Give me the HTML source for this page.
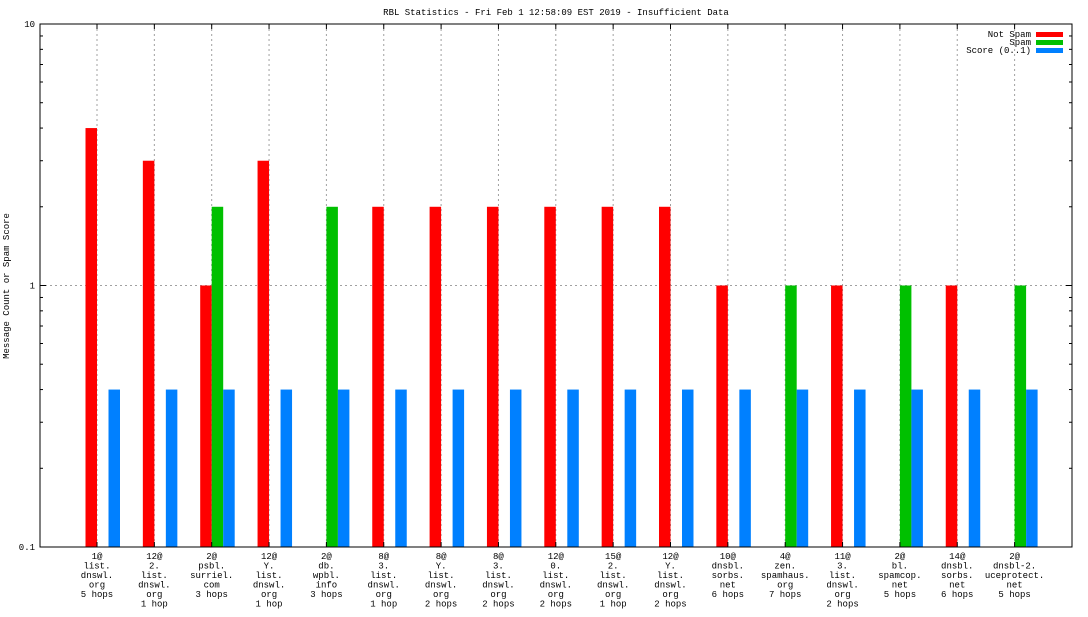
<!DOCTYPE html>
<html><head><meta charset="utf-8"><style>
html,body{margin:0;padding:0;background:#fff}
svg text{font-family:"Liberation Mono","DejaVu Sans Mono",monospace;font-size:9px;fill:#000}
</style></head><body>
<svg id="chart" width="1088" height="612" viewBox="0 0 1088 612" xmlns="http://www.w3.org/2000/svg">
<text x="556" y="15" text-anchor="middle">RBL Statistics - Fri Feb  1 12:58:09 EST 2019 - Insufficient Data</text>
<text transform="translate(9,286) rotate(-90)" text-anchor="middle">Message Count or Spam Score</text>
<g id="grid"></g><g id="bars"></g><g id="axes"></g><g id="labels"></g>
<g>
<text x="1031" y="37" text-anchor="end">Not Spam</text>
<rect x="1036" y="32" width="27" height="5" fill="#ff0000"/>
<text x="1031" y="45" text-anchor="end">Spam</text>
<rect x="1036" y="40" width="27" height="5" fill="#00c000"/>
<text x="1031" y="53" text-anchor="end">Score (0..1)</text>
<rect x="1036" y="48" width="27" height="5" fill="#0080ff"/>
</g>
</svg>
<script>
const categories=[
["1@","list.","dnswl.","org","5 hops"],["12@","2.","list.","dnswl.","org","1 hop"],["2@","psbl.","surriel.","com","3 hops"],
["12@","Y.","list.","dnswl.","org","1 hop"],["2@","db.","wpbl.","info","3 hops"],["8@","3.","list.","dnswl.","org","1 hop"],
["8@","Y.","list.","dnswl.","org","2 hops"],["8@","3.","list.","dnswl.","org","2 hops"],["12@","0.","list.","dnswl.","org","2 hops"],
["15@","2.","list.","dnswl.","org","1 hop"],["12@","Y.","list.","dnswl.","org","2 hops"],["10@","dnsbl.","sorbs.","net","6 hops"],
["4@","zen.","spamhaus.","org","7 hops"],["11@","3.","list.","dnswl.","org","2 hops"],["2@","bl.","spamcop.","net","5 hops"],
["14@","dnsbl.","sorbs.","net","6 hops"],["2@","dnsbl-2.","uceprotect.","net","5 hops"]];
const notSpam=[4,3,1,3,0,2,2,2,2,2,2,1,0,1,0,1,0];
const spam=[0,0,2,0,2,0,0,0,0,0,0,0,1,0,1,0,1];
const score=[0.4,0.4,0.4,0.4,0.4,0.4,0.4,0.4,0.4,0.4,0.4,0.4,0.4,0.4,0.4,0.4,0.4];
const yTicks=[0.1,1,10];
const yTickLabels=["0.1","1","10"];
const NS="http://www.w3.org/2000/svg";
const L=40,R=1072,T=24,B=547,yMin=0.1,yMax=10;
const y=v=>B-(Math.log10(v)-Math.log10(yMin))/(Math.log10(yMax)-Math.log10(yMin))*(B-T);
const step=57.35,x0=97;
const xc=i=>x0+i*step;
const bw=11.5;
function mk(tag,attrs,parent){const e=document.createElementNS(NS,tag);for(const k in attrs)e.setAttribute(k,attrs[k]);document.getElementById(parent).appendChild(e);return e;}
categories.forEach((c,i)=>{const g=mk('line',{x1:xc(i),x2:xc(i),y1:T,y2:B,stroke:'#a0a0a0','stroke-dasharray':'2,3'},'grid');

});
yTicks.forEach((t,i)=>{if(t>yMin&&t<yMax){const g=mk('line',{x1:L,x2:R,y1:y(t),y2:y(t),stroke:'#a0a0a0','stroke-dasharray':'2,3'},'grid');

}});
function bar(v,xl,col,name){if(v<=0)return;const top=y(v);const r=mk('rect',{x:xl,y:top,width:bw,height:B-top,fill:col},'bars');

}
categories.forEach((c,i)=>{bar(notSpam[i],xc(i)-bw,'#ff0000','bar-not-spam');bar(spam[i],xc(i),'#00c000','bar-spam');bar(score[i],xc(i)+bw,'#0080ff','bar-score');});
const fr=mk('rect',{x:L,y:T,width:R-L,height:B-T,fill:'none',stroke:'#000','stroke-width':1},'axes');


for(let d=yMin;d<yMax;d*=10){for(let m=1;m<10;m++){const v=d*m;const len=m===1?6:3;const yy=y(v);
mk('line',{x1:L,x2:L+len,y1:yy,y2:yy,stroke:'#000'},'axes');mk('line',{x1:R,x2:R-len,y1:yy,y2:yy,stroke:'#000'},'axes');}}
categories.forEach((c,i)=>{mk('line',{x1:xc(i),x2:xc(i),y1:B,y2:B-5,stroke:'#000'},'axes');mk('line',{x1:xc(i),x2:xc(i),y1:T,y2:T+5,stroke:'#000'},'axes');});
yTicks.forEach((t,i)=>{const tx=mk('text',{x:L-5,y:y(t)+3,'text-anchor':'end'},'labels');tx.textContent=yTickLabels[i];

});
categories.forEach((c,i)=>{c.forEach((s,j)=>{const tx=mk('text',{x:xc(i),y:559+j*9.5,'text-anchor':'middle'},'labels');tx.textContent=s;

});});
</script>
</body></html>
